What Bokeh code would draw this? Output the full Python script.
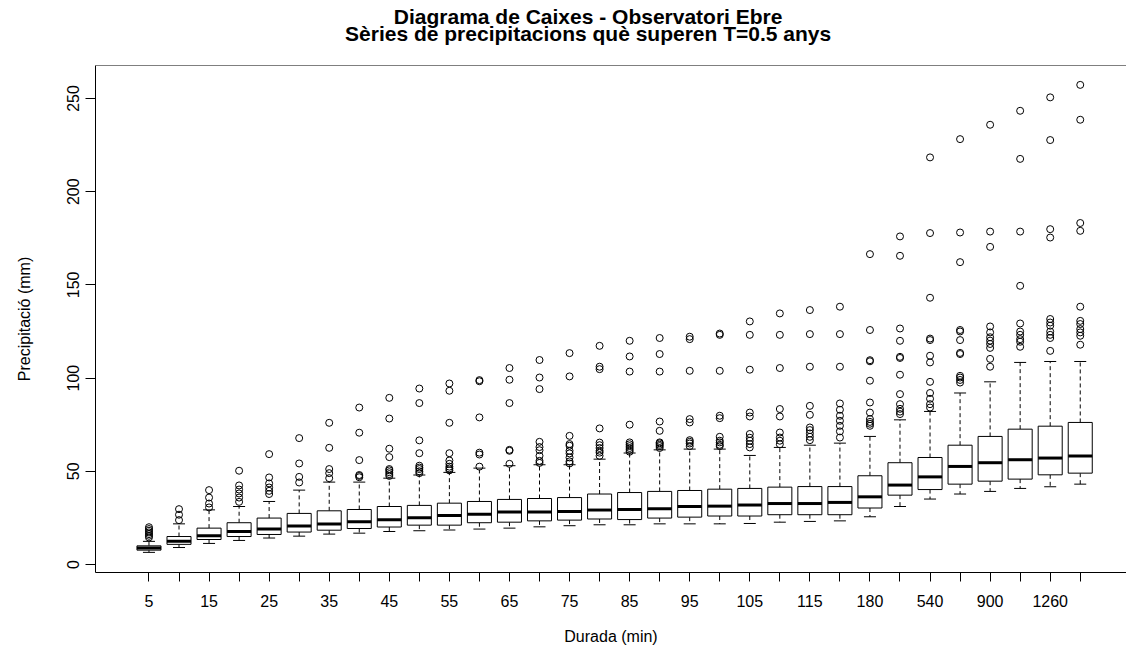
from bokeh.plotting import figure
from bokeh.layouts import column
from bokeh.models import Range1d, FixedTicker, Span, Label, ColumnDataSource
from bokeh.embed import file_html
from bokeh.resources import INLINE

# ---------------- data ----------------
durations = ["5", "10", "15", "20", "25", "30", "35", "40", "45", "50", "55", "60",
             "65", "70", "75", "80", "85", "90", "95", "100", "105", "110", "115", "120",
             "180", "360", "540", "720", "900", "1080", "1260", "1440"]

lower_whisker = [6.5, 9.1, 11.3, 12.9, 14.2, 15.2, 16.3, 16.8, 17.7, 18.1, 18.5, 19.0,
                 19.5, 20.2, 20.8, 21.3, 21.3, 21.8, 21.8, 21.8, 22.0, 22.7, 23.1, 23.4,
                 25.6, 31.1, 35.1, 37.8, 39.2, 40.8, 41.7, 43.1]
q1 = [7.7, 10.8, 13.4, 15.0, 16.1, 17.4, 18.4, 19.3, 20.1, 21.1, 21.1, 22.4,
      22.7, 23.4, 23.8, 24.4, 24.1, 24.9, 25.4, 26.0, 26.0, 26.7, 26.7, 26.7,
      30.3, 37.2, 40.2, 43.1, 44.7, 45.8, 48.1, 49.0]
median = [8.8, 12.5, 15.4, 17.7, 19.0, 20.6, 21.7, 22.9, 24.0, 25.1, 26.3, 27.0,
          28.1, 28.1, 28.4, 29.2, 29.5, 29.9, 31.1, 31.3, 31.9, 32.7, 32.7, 33.3,
          36.3, 42.6, 47.0, 52.6, 54.6, 56.2, 57.1, 58.2]
q3 = [10.0, 15.0, 19.5, 22.4, 24.9, 27.4, 28.8, 29.5, 31.1, 31.7, 32.9, 33.8,
      34.9, 35.4, 35.9, 37.8, 38.6, 39.2, 39.7, 40.4, 40.8, 41.5, 41.8, 41.8,
      47.6, 54.6, 57.4, 64.0, 68.7, 72.6, 74.2, 76.2]
upper_whisker = [12.4, 21.8, 29.3, 31.1, 33.8, 39.9, 44.2, 44.2, 46.3, 48.0, 49.4, 51.7,
                 53.0, 53.5, 53.5, 56.5, 59.8, 61.5, 61.9, 61.9, 58.5, 62.8, 64.0, 65.1,
                 68.7, 77.6, 82.1, 92.0, 98.0, 108.4, 108.9, 108.9]
outliers = [
    [14.5, 15.4, 16.3, 17.2, 18.1, 19.0, 20.0],
    [23.8, 26.7, 29.7],
    [30.6, 32.7, 35.9, 39.9],
    [33.6, 35.9, 38.1, 40.2, 42.4, 50.3],
    [37.8, 39.5, 41.3, 43.5, 46.7, 59.2],
    [44.0, 47.0, 54.2, 67.8],
    [46.3, 49.0, 51.2, 62.6, 76.0],
    [46.8, 47.5, 48.0, 56.0, 70.7, 84.2],
    [47.5, 48.5, 49.5, 50.5, 51.2, 57.6, 62.1, 78.3, 89.4],
    [49.0, 50.0, 51.2, 52.0, 53.0, 59.7, 66.6, 86.6, 94.4],
    [50.5, 51.5, 52.5, 54.0, 55.8, 59.7, 76.0, 93.2, 97.1],
    [52.5, 59.0, 60.0, 78.9, 98.3, 98.9],
    [54.0, 61.0, 61.5, 86.6, 99.1, 105.4],
    [54.5, 55.6, 58.3, 61.3, 63.0, 65.8, 94.1, 100.3, 109.7],
    [54.2, 55.3, 57.4, 59.6, 61.0, 63.7, 64.6, 69.0, 100.9, 113.4],
    [58.3, 60.0, 61.0, 62.5, 64.0, 65.4, 73.0, 104.8, 106.1, 117.3],
    [60.5, 61.5, 62.5, 63.5, 64.5, 65.5, 75.0, 103.5, 111.6, 120.0],
    [62.5, 63.5, 64.2, 65.0, 65.5, 71.7, 76.7, 103.5, 112.9, 121.5],
    [63.5, 64.9, 65.8, 66.7, 76.2, 78.0, 103.9, 120.9, 122.2],
    [63.5, 64.2, 65.5, 66.4, 68.5, 78.5, 79.8, 103.9, 123.2, 123.9],
    [62.8, 64.6, 66.4, 68.0, 70.0, 79.4, 81.5, 104.5, 123.2, 130.4],
    [64.5, 66.4, 68.1, 70.8, 79.4, 83.4, 105.4, 123.2, 134.7],
    [66.7, 68.5, 70.3, 72.1, 73.5, 80.3, 85.1, 106.1, 123.6, 136.5],
    [68.1, 71.4, 74.4, 77.1, 79.8, 83.0, 86.4, 106.1, 123.6, 138.3],
    [74.4, 75.5, 76.5, 78.0, 81.5, 86.9, 98.6, 109.0, 109.6, 125.8, 166.5],
    [80.7, 82.0, 83.5, 86.0, 91.4, 101.8, 110.8, 111.4, 120.0, 126.6, 165.6, 176.0],
    [84.2, 86.0, 88.9, 92.0, 98.0, 108.4, 112.0, 120.4, 121.2, 143.1, 177.8, 218.4],
    [97.6, 99.0, 100.3, 101.2, 112.9, 113.5, 120.4, 125.0, 125.8, 162.2, 178.1, 228.2],
    [106.1, 110.3, 116.2, 118.3, 120.1, 121.9, 124.5, 127.7, 170.4, 178.6, 235.9],
    [116.8, 119.5, 120.9, 123.2, 125.0, 129.3, 149.5, 178.6, 217.6, 243.4],
    [114.6, 121.5, 123.2, 125.0, 128.1, 129.8, 131.7, 175.4, 179.9, 227.7, 250.6],
    [117.9, 122.7, 124.5, 126.3, 129.0, 130.7, 138.3, 179.0, 183.2, 238.6, 257.3],
]
y_ticks = [0, 50, 100, 150, 200, 250]

title_line1 = "Diagrama de Caixes - Observatori Ebre"
title_line2 = "Sèries de precipitacions què superen T=0.5 anys"
x_label = "Durada (min)"
y_label = "Precipitació (mm)"

# ---------------- layout constants ----------------
FONT = "Liberation Sans"
W, H = 1126, 652
TITLE_H = 52
BOX_W = 0.8
CAP_W = 0.4

# ---------------- title strip (no axes, frame = whole strip) ----------------
t = figure(width=W, height=TITLE_H, output_backend="svg", toolbar_location=None,
           x_range=Range1d(0, W), y_range=Range1d(0, TITLE_H),
           x_axis_location=None, y_axis_location=None,
           min_border=0, title=None)
t.grid.visible = False
t.outline_line_color = None
t.background_fill_color = "white"
t.border_fill_color = "white"
for txt, yy in ((title_line1, TITLE_H - 15.5), (title_line2, TITLE_H - 32.5)):
    t.add_layout(Label(x=538, y=yy, text=txt, text_align="center",
                       text_baseline="alphabetic", text_font=FONT,
                       text_font_size="21px", text_font_style="bold",
                       text_color="black"))

# ---------------- main plot ----------------
xs = list(range(1, len(durations) + 1))
src = ColumnDataSource(dict(
    x=xs, lw=lower_whisker, q1=q1, med=median, q3=q3, uw=upper_whisker,
    left=[x - BOX_W / 2 for x in xs], right=[x + BOX_W / 2 for x in xs],
    cl=[x - CAP_W / 2 for x in xs], cr=[x + CAP_W / 2 for x in xs],
))
ox, oy = [], []
for x, outs in zip(xs, outliers):
    for v in outs:
        ox.append(x)
        oy.append(v)

p = figure(width=W, height=H - TITLE_H, output_backend="svg", toolbar_location=None,
           x_range=Range1d(-0.78, 33.54), y_range=Range1d(-4.3, 267.7),
           min_border_left=95, min_border_right=0, min_border_top=65 - TITLE_H,
           min_border_bottom=80, title=None)
p.outline_line_color = None
p.grid.visible = False
p.background_fill_color = "white"
p.border_fill_color = "white"

# whiskers
p.segment(x0="x", y0="q3", x1="x", y1="uw", source=src, line_color="black",
          line_width=1, line_dash="4 3")
p.segment(x0="x", y0="q1", x1="x", y1="lw", source=src, line_color="black",
          line_width=1, line_dash="4 3")
# caps
p.segment(x0="cl", y0="uw", x1="cr", y1="uw", source=src, line_color="black", line_width=1)
p.segment(x0="cl", y0="lw", x1="cr", y1="lw", source=src, line_color="black", line_width=1)
# boxes
p.quad(left="left", right="right", bottom="q1", top="q3", source=src,
       fill_color="white", line_color="black", line_width=1)
# medians
p.segment(x0="left", y0="med", x1="right", y1="med", source=src, line_color="black",
          line_width=3)
# outliers
p.scatter(ox, oy, marker="circle", size=7, fill_color=None, line_color="black", line_width=1)

# top frame line
p.add_layout(Span(location=p.y_range.end, dimension="width", line_color="black", line_width=1))

# x axis
xa = p.xaxis[0]
xa.ticker = FixedTicker(ticks=xs)
xa.major_label_overrides = {x: (lab if i % 2 == 0 else "") for i, (x, lab) in enumerate(zip(xs, durations))}
xa.minor_tick_line_color = None
xa.major_tick_in = 0
xa.major_tick_out = 9
xa.major_label_standoff = 13
xa.axis_line_color = "black"
xa.major_tick_line_color = "black"
xa.major_label_text_font = FONT
xa.major_label_text_font_size = "16px"
xa.major_label_text_color = "black"
xa.axis_label = x_label
xa.axis_label_text_font = FONT
xa.axis_label_text_font_size = "16px"
xa.axis_label_text_font_style = "normal"
xa.axis_label_text_color = "black"
xa.axis_label_standoff = 18

# y axis
ya = p.yaxis[0]
ya.ticker = FixedTicker(ticks=y_ticks)
ya.minor_tick_line_color = None
ya.major_tick_in = 0
ya.major_tick_out = 10
ya.major_label_standoff = 6
ya.major_label_orientation = "vertical"
ya.axis_line_color = "black"
ya.major_tick_line_color = "black"
ya.major_label_text_font = FONT
ya.major_label_text_font_size = "16px"
ya.major_label_text_color = "black"
ya.axis_label = y_label
ya.axis_label_text_font = FONT
ya.axis_label_text_font_size = "16px"
ya.axis_label_text_font_style = "normal"
ya.axis_label_text_color = "black"
ya.axis_label_standoff = 32

layout = column(t, p, spacing=0)
open("out.html", "w").write(file_html(layout, INLINE))
